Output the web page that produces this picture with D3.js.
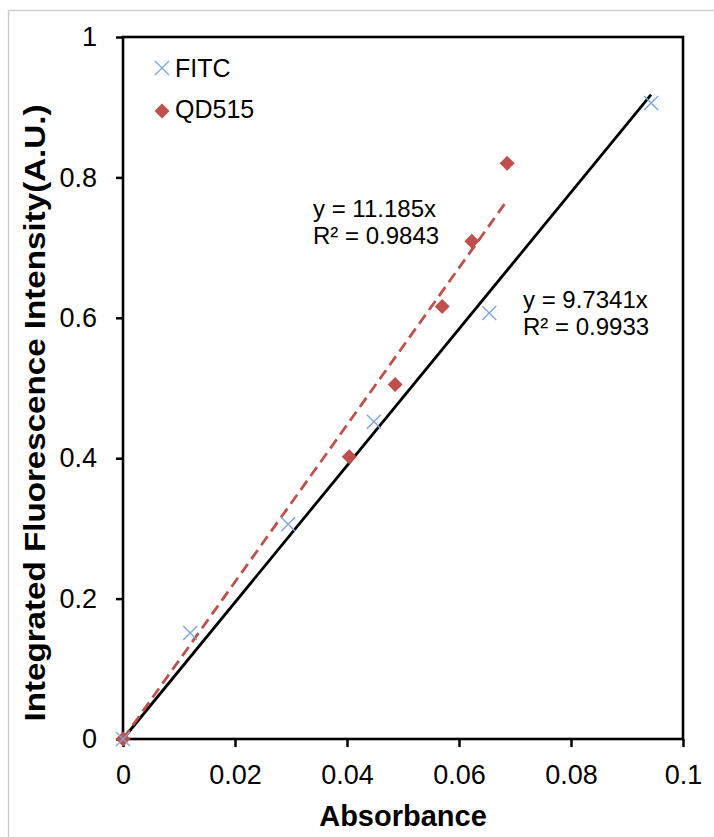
<!DOCTYPE html>
<html>
<head>
<meta charset="utf-8">
<script src="https://cdn.jsdelivr.net/npm/d3@7"></script>
<style>
  body { margin: 0; background: #fff; }
  text { font-family: Arial, "Liberation Sans", sans-serif; fill: #000; }
</style>
</head>
<body>
<script>

// data
var fitcAbs = [0, 0.012, 0.0295, 0.0448, 0.0654, 0.0943];
var fitcInt = [0, 0.151, 0.306, 0.452, 0.607, 0.906];
var qdAbs = [0, 0.0404, 0.0486, 0.057, 0.0623, 0.0686];
var qdInt = [0, 0.402, 0.505, 0.616, 0.709, 0.82];

var seriesNames = ["FITC", "QD515"];
var slopes = [9.7341, 11.185];
var eqLabels = [["y = 9.7341x", "R\u00b2 = 0.9933"], ["y = 11.185x", "R\u00b2 = 0.9843"]];

var xTicks = [0, 0.02, 0.04, 0.06, 0.08, 0.1];
var yTicks = [0, 0.2, 0.4, 0.6, 0.8, 1];

var width = 714;
var height = 837;

var svg = d3.select("body").append("svg")
      .attr("width", width)
      .attr("height", height);

// chart area border (light gray)
svg.append("rect")
   .attr("x", 8.5).attr("y", 10.5)
   .attr("width", 720).attr("height", 840)
   .attr("fill", "none")
   .attr("stroke", "#c8c8c8")
   .attr("stroke-width", 1.3);

var x = d3.scaleLinear().domain([0, 0.1]).range([123, 683]);
var y = d3.scaleLinear().domain([0, 1]).range([739, 37]);

var fmt = function(d) { return String(+d.toFixed(2)); };

// **** axes *****************
var xAxis = svg.append("g")
    .attr("transform", "translate(0," + y(0) + ")")
    .call(d3.axisBottom(x).tickValues(xTicks).tickFormat(fmt).tickSize(8).tickSizeOuter(0).tickPadding(18));

var yAxis = svg.append("g")
    .attr("transform", "translate(" + x(0) + ",0)")
    .call(d3.axisLeft(y).tickValues(yTicks).tickFormat(fmt).tickSize(7).tickSizeOuter(0).tickPadding(19));

[xAxis, yAxis].forEach(function(a) {
  a.select(".domain").remove();
  a.selectAll("line").attr("stroke", "#000").attr("stroke-width", 2.5);
  a.selectAll("text").attr("font-size", 27).attr("fill", "#000");
});

// plot frame
svg.append("rect")
   .attr("x", x(0)).attr("y", y(1))
   .attr("width", x(0.1) - x(0)).attr("height", y(0) - y(1))
   .attr("fill", "none")
   .attr("stroke", "#000")
   .attr("stroke-width", 2.6);

// **** trendlines *****************
var line = d3.line().x(function(d) { return x(d[0]); }).y(function(d) { return y(d[1]); });

var fitcMax = d3.max(fitcAbs);
var qdMax = d3.max(qdAbs);

svg.append("path")
   .attr("d", line([[0, 0], [fitcMax, slopes[0] * fitcMax]]))
   .attr("stroke", "#000")
   .attr("stroke-width", 2.8)
   .attr("fill", "none");

svg.append("path")
   .attr("d", line([[0, 0], [qdMax, slopes[1] * qdMax]]))
   .attr("stroke", "#c0504d")
   .attr("stroke-width", 2.8)
   .attr("stroke-dasharray", "11,6")
   .attr("fill", "none");

// **** points *****************
var crossPath = function(s) { return "M" + (-s) + "," + (-s) + "L" + s + "," + s + "M" + (-s) + "," + s + "L" + s + "," + (-s); };
var diamondPath = function(s) { return "M0," + (-s) + "L" + s + ",0L0," + s + "L" + (-s) + ",0Z"; };

svg.selectAll(".qd")
   .data(d3.range(qdAbs.length))
   .join("path")
   .attr("class", "qd")
   .attr("transform", function(i) { return "translate(" + x(qdAbs[i]) + "," + y(qdInt[i]) + ")"; })
   .attr("d", diamondPath(7.5))
   .attr("fill", "#c0504d");

svg.selectAll(".fitc")
   .data(d3.range(fitcAbs.length))
   .join("path")
   .attr("class", "fitc")
   .attr("transform", function(i) { return "translate(" + x(fitcAbs[i]) + "," + y(fitcInt[i]) + ")"; })
   .attr("d", crossPath(7))
   .attr("stroke", "#7fa6dc")
   .attr("stroke-width", 1.4)
   .attr("fill", "none");

// **** equation labels *****************
var eqPos = [[523, 308], [313, 217]];
eqLabels.forEach(function(lines, k) {
  lines.forEach(function(t, j) {
    svg.append("text")
       .attr("x", eqPos[k][0])
       .attr("y", eqPos[k][1] + j * 27)
       .attr("font-size", 24)
       .text(t);
  });
});

// **** legend *****************
var legend = svg.append("g").attr("transform", "translate(162,68)");
legend.append("path").attr("d", crossPath(7)).attr("stroke", "#7fa6dc").attr("stroke-width", 1.4).attr("fill", "none");
legend.append("path").attr("transform", "translate(0,43)").attr("d", diamondPath(7.5)).attr("fill", "#c0504d");
seriesNames.forEach(function(n, i) {
  legend.append("text")
     .attr("x", 13)
     .attr("y", 9 + i * 41)
     .attr("font-size", 25)
     .text(n);
});

// **** axis titles *****************
svg.append("text")
   .attr("x", (x(0) + x(0.1)) / 2)
   .attr("y", 826)
   .attr("text-anchor", "middle")
   .attr("font-size", 29)
   .attr("font-weight", "bold")
   .text("Absorbance");

svg.append("text")
   .attr("transform", "translate(45,413) rotate(-90)")
   .attr("text-anchor", "middle")
   .attr("font-size", 29)
   .attr("font-weight", "bold")
   .attr("textLength", 617)
   .attr("lengthAdjust", "spacingAndGlyphs")
   .text("Integrated Fluorescence Intensity(A.U.)");

</script>
</body>
</html>
